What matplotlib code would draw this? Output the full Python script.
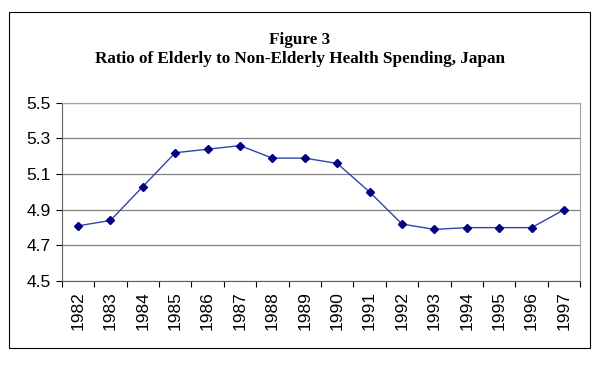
import matplotlib
matplotlib.use("Agg")
import matplotlib.pyplot as plt
from matplotlib.patches import Rectangle

years = ["1982", "1983", "1984", "1985", "1986", "1987", "1988", "1989",
         "1990", "1991", "1992", "1993", "1994", "1995", "1996", "1997"]
ratio = [4.81, 4.84, 5.03, 5.22, 5.24, 5.26, 5.19, 5.19,
         5.16, 5.00, 4.82, 4.79, 4.80, 4.80, 4.80, 4.90]
yticks = [4.5, 4.7, 4.9, 5.1, 5.3, 5.5]

fig = plt.figure(figsize=(6, 3.66), dpi=100)
ax = fig.add_axes([0.103, 0.232, 0.864, 0.487])

# outer chart frame
fig.patches.append(Rectangle((0.015, 0.05), 0.968, 0.918, transform=fig.transFigure,
                             fill=False, edgecolor="black", linewidth=0.8))

x = range(len(years))
ax.plot(x, ratio, color="#3344aa", linewidth=1.0, marker="D", markersize=4.5,
        markerfacecolor="#000080", markeredgecolor="#000080")

ax.set_xlim(-0.5, len(years) - 0.5)
ax.set_ylim(4.5, 5.5)
ax.set_yticks(yticks)
ax.set_yticklabels([f"{v:.1f}" for v in yticks], fontsize=12.5, family="Liberation Sans")
ax.set_xticks([i - 0.5 for i in range(len(years) + 1)], minor=False)
ax.set_xticklabels([])
ax.set_xticks(list(x), minor=True)
ax.set_xticklabels(years, minor=True, rotation=90, fontsize=12.5, family="Liberation Sans")
ax.tick_params(axis="x", which="minor", length=0, pad=7)
ax.tick_params(axis="x", which="major", length=4, direction="out")
ax.tick_params(axis="y", length=4, direction="out", pad=4)

ax.yaxis.grid(True, color="#808080", linewidth=0.9)
ax.set_axisbelow(True)
for s in ["top", "right"]:
    ax.spines[s].set_color("#a0a0a0")
for s in ["left", "bottom"]:
    ax.spines[s].set_color("#606060")

fig.text(0.5, 0.89, "Figure 3", ha="center", va="center", fontsize=12.3,
         fontweight="bold", family="Liberation Serif")
fig.text(0.5, 0.838, "Ratio of Elderly to Non-Elderly Health Spending, Japan", ha="center",
         va="center", fontsize=12.3, fontweight="bold", family="Liberation Serif")

fig.savefig("out.png", dpi=100)
